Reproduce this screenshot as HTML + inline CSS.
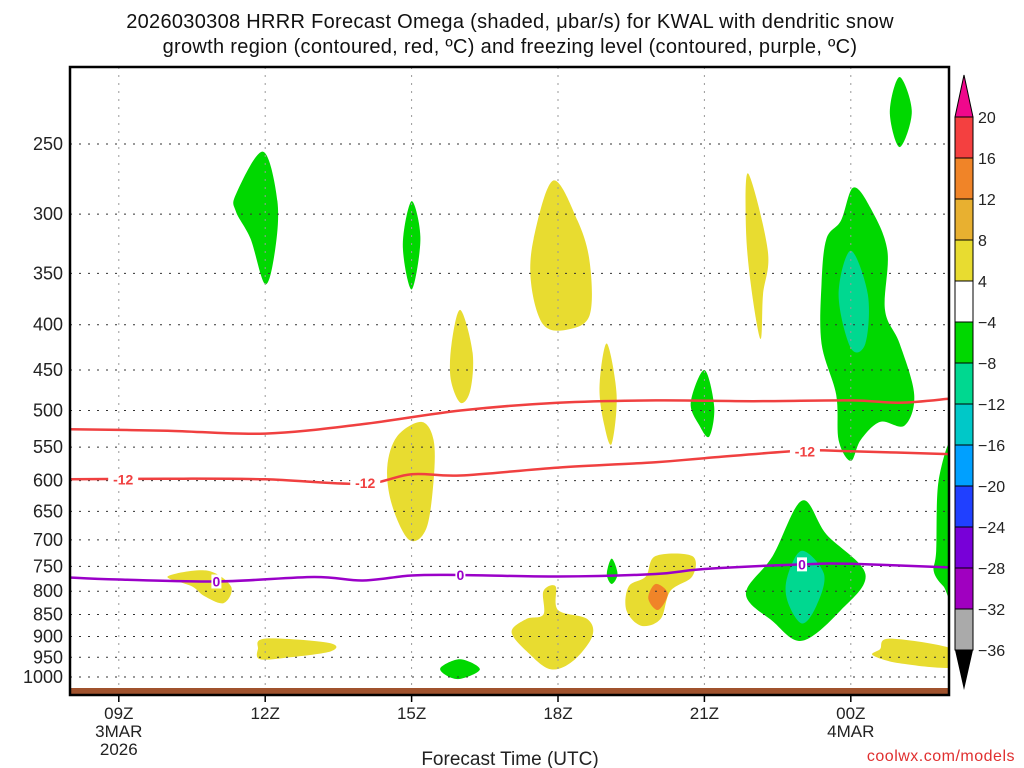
<!DOCTYPE html>
<html><head><meta charset="utf-8"><style>
html,body{margin:0;padding:0;background:#fff;width:1024px;height:768px;overflow:hidden}
svg text{font-family:"Liberation Sans","DejaVu Sans",sans-serif}
</style></head><body>
<svg id="chart" width="1024" height="768" viewBox="0 0 1024 768" xmlns="http://www.w3.org/2000/svg">
<g font-size="20" fill="#111" text-anchor="middle" letter-spacing="0.3">
<text x="510" y="28">2026030308 HRRR Forecast Omega (shaded, μbar/s) for KWAL with dendritic snow</text>
<text x="510" y="53">growth region (contoured, red, ºC) and freezing level (contoured, purple, ºC)</text>
</g>
<g id="shades"></g>
<g id="grid"></g>
<g id="lines"></g>
<rect x="70" y="688" width="879" height="7" fill="#a0522d"/>
<rect x="70" y="67" width="879" height="628" fill="none" stroke="#000" stroke-width="2.5"/>
<g id="yaxis" font-size="18" fill="#222" text-anchor="end"></g>
<g id="xaxis" font-size="17" fill="#222" text-anchor="middle"></g>
<text x="510" y="765" font-size="19" fill="#222" text-anchor="middle">Forecast Time (UTC)</text>
<text x="1015" y="761" font-size="16" fill="#e03030" text-anchor="end" letter-spacing="0.5">coolwx.com/models</text>
<g id="cbar"></g>
</svg>
<script>
const pressureTicks=[250,300,350,400,450,500,550,600,650,700,750,800,850,900,950,1000];
const hourTicks=[9,12,15,18,21,24];
const hourLabels=["09Z","12Z","15Z","18Z","21Z","00Z"];
const cbarLevels=[20,16,12,8,4,-4,-8,-12,-16,-20,-24,-28,-32,-36];
const cbarColors=["#f44040","#f08428","#e8b030","#e8dc30","#ffffff","#00d800","#00d890","#00c8c8","#00a0ff","#2040ff","#7800d8","#a000c0","#aaaaaa"];
// blobs: [level color index, [[hour,hPa],...]]
const blobs=[
[5,[[25.0,210],[25.25,230],[25.0,252],[24.8,230]]],
[5,[[11.4,285],[11.95,255],[12.25,290],[12.2,330],[12.0,360],[11.7,320],[11.4,298]]],
[5,[[15.0,290],[15.18,320],[15.0,365],[14.82,325]]],
[3,[[17.9,275],[18.4,305],[18.65,340],[18.65,390],[18.2,405],[17.7,400],[17.45,360],[17.5,320]]],
[3,[[16.0,385],[16.25,430],[16.2,475],[16.0,490],[15.8,460],[15.82,420]]],
[3,[[21.9,270],[22.3,330],[22.2,370],[22.15,415],[21.95,360],[21.85,310]]],
[3,[[19.0,420],[19.2,480],[19.1,545],[18.95,520],[18.85,470]]],
[5,[[21.0,450],[21.2,495],[21.1,535],[20.9,520],[20.72,490]]],
[5,[[23.8,305],[24.05,280],[24.4,295],[24.75,330],[24.7,385],[25.0,420],[25.3,480],[25.1,520],[24.6,515],[24.2,540],[24.0,570],[23.75,540],[23.7,480],[23.4,420],[23.4,360],[23.5,320]]],
[6,[[24.0,330],[24.35,370],[24.3,420],[24.0,425],[23.75,370]]],
[3,[[15.2,515],[15.45,540],[15.45,600],[15.3,680],[14.95,700],[14.6,640],[14.5,580],[14.7,535]]],
[5,[[26.1,548],[25.8,600],[25.75,720],[25.7,760],[25.9,790],[26.1,800]]],
[3,[[10.0,770],[10.8,758],[11.3,790],[11.15,825],[10.75,810],[10.5,790]]],
[5,[[19.1,735],[19.22,765],[19.1,785],[19.0,765]]],
[3,[[20.0,730],[20.75,730],[20.75,770],[20.3,800],[20.1,860],[19.7,875],[19.4,840],[19.45,790],[19.8,770]]],
[1,[[20.0,785],[20.25,805],[20.05,840],[19.85,815]]],
[3,[[17.7,800],[17.95,790],[18.0,840],[18.6,860],[18.7,900],[18.3,960],[17.85,980],[17.4,940],[17.05,890],[17.35,860],[17.7,850]]],
[5,[[23.0,632],[23.5,690],[24.3,765],[23.8,840],[23.0,910],[22.4,865],[21.85,805],[22.4,730]]],
[6,[[23.0,720],[23.45,765],[23.3,830],[23.0,870],[22.7,820],[22.7,770]]],
[3,[[12.0,905],[13.3,915],[13.35,935],[12.5,950],[11.9,955],[11.85,930]]],
[5,[[15.6,975],[16.0,955],[16.4,980],[16.0,1005],[15.7,995]]],
[3,[[24.6,930],[24.8,905],[26.1,930],[26.1,975],[25.0,965],[24.45,945]]]
];
const dgzUpper=[[8,525],[10,527],[12,531],[14,518],[16,500],[18,490],[20,487],[22,488],[24,487],[25,490],[26,485]];
const dgzLower=[[8,598],[10,597],[12,598],[14,605],[15,590],[16,592],[18,580],[20,572],[21,566],[23,555],[24,556],[26,560]];
const freezing=[[8,772],[9,776],[11,780],[13,771],[14,778],[15,768],[16,767],[18,770],[20,765],[21,755],[23,746],[24,745],[26,752]];
const dgzLabels=[[9.09,598,"-12"],[14.05,604,"-12"],[23.06,556,"-12"]];
const frzLabels=[[11.0,780,"0"],[16.0,767,"0"],[23.0,746,"0"]];

const X0=70,H0=8,PXH=48.8;
const xs=h=>X0+(h-H0)*PXH;
const ys=p=>144+384.5*Math.log(p/250);
const NS="http://www.w3.org/2000/svg";
function mk(tag,attrs,parent){const e=document.createElementNS(NS,tag);for(const k in attrs)e.setAttribute(k,attrs[k]);parent.appendChild(e);return e;}
function smooth(pts,closed){
 const n=pts.length;let d="M"+pts[0][0].toFixed(1)+","+pts[0][1].toFixed(1);
 const get=i=>closed?pts[(i+n)%n]:pts[Math.max(0,Math.min(n-1,i))];
 const m=closed?n:n-1;
 for(let i=0;i<m;i++){const p0=get(i-1),p1=get(i),p2=get(i+1),p3=get(i+2);
  const c1=[p1[0]+(p2[0]-p0[0])/6,p1[1]+(p2[1]-p0[1])/6],c2=[p2[0]-(p3[0]-p1[0])/6,p2[1]-(p3[1]-p1[1])/6];
  d+="C"+c1[0].toFixed(1)+","+c1[1].toFixed(1)+" "+c2[0].toFixed(1)+","+c2[1].toFixed(1)+" "+p2[0].toFixed(1)+","+p2[1].toFixed(1);}
 return d+(closed?"Z":"");}
const shades=document.getElementById('shades');
const clip=mk('clipPath',{id:'pc'},shades);mk('rect',{x:70,y:67,width:879,height:628},clip);
const sg=mk('g',{'clip-path':'url(#pc)'},shades);
blobs.forEach(b=>{const el=mk('path',{d:smooth(b[1].map(q=>[xs(q[0]),ys(q[1])]),true),fill:cbarColors[b[0]]},sg);

});
const grid=document.getElementById('grid');
pressureTicks.forEach(p=>{const el=mk('line',{x1:70,x2:949,y1:ys(p),y2:ys(p),stroke:'#333','stroke-dasharray':'2,7'},grid);

});
hourTicks.forEach(h=>{const el=mk('line',{x1:xs(h),x2:xs(h),y1:67,y2:688,stroke:'#999','stroke-dasharray':'2,6'},grid);

});
const lines=document.getElementById('lines');
const lg=mk('g',{'clip-path':'url(#pc)'},lines);
[[dgzUpper,'#f04040','dgz-upper-line'],[dgzLower,'#f04040','dgz-lower-line'],[freezing,'#9a00c8','freezing-level-line']].forEach(L=>{
const el=mk('path',{d:smooth(L[0].map(q=>[xs(q[0]),ys(q[1])]),false),fill:'none',stroke:L[1],'stroke-width':2.5},lg);

});
function lab(arr,col,name){arr.forEach(a=>{const x=xs(a[0]),y=ys(a[1]);
mk('rect',{x:x-(a[2].length*5),y:y-7,width:a[2].length*10,height:14,fill:'#fff'},lines);
const t=mk('text',{x:x,y:y+5,'font-size':14,'font-weight':'bold',fill:col,'text-anchor':'middle'},lines);t.textContent=a[2];

});}
lab(dgzLabels,'#f04040','dgz-label');lab(frzLabels,'#9a00c8','freezing-label');
const ya=document.getElementById('yaxis');
pressureTicks.forEach(p=>{const t=mk('text',{x:63,y:ys(p)+6},ya);t.textContent=p;

});
const xa=document.getElementById('xaxis');
hourTicks.forEach((h,i)=>{mk('line',{x1:xs(h),x2:xs(h),y1:695,y2:702,stroke:'#000','stroke-width':1.5},xa);
const t=mk('text',{x:xs(h),y:719},xa);t.textContent=hourLabels[i];

});
[["3MAR",xs(9),737],["2026",xs(9),755],["4MAR",xs(24),737]].forEach(a=>{const t=mk('text',{x:a[1],y:a[2]},xa);t.textContent=a[0];

});
const cb=document.getElementById('cbar');
const CX=955,CW=18,CY0=117,STEP=41;
mk('path',{d:`M${CX},${CY0} L${CX+CW/2},75 L${CX+CW},${CY0}Z`,fill:'#f0088c',stroke:'#000'},cb);
cbarColors.forEach((c,i)=>{const el=mk('rect',{x:CX,y:CY0+i*STEP,width:CW,height:STEP,fill:c,stroke:'#000','stroke-width':1},cb);

});
const yb=CY0+cbarColors.length*STEP;
mk('path',{d:`M${CX},${yb} L${CX+CW/2},690 L${CX+CW},${yb}Z`,fill:'#000'},cb);
cbarLevels.forEach((v,i)=>{const t=mk('text',{x:978,y:CY0+i*STEP+6,'font-size':16,fill:'#222'},cb);t.textContent=v<0?"−"+(-v):v;

});
</script>
</body></html>
